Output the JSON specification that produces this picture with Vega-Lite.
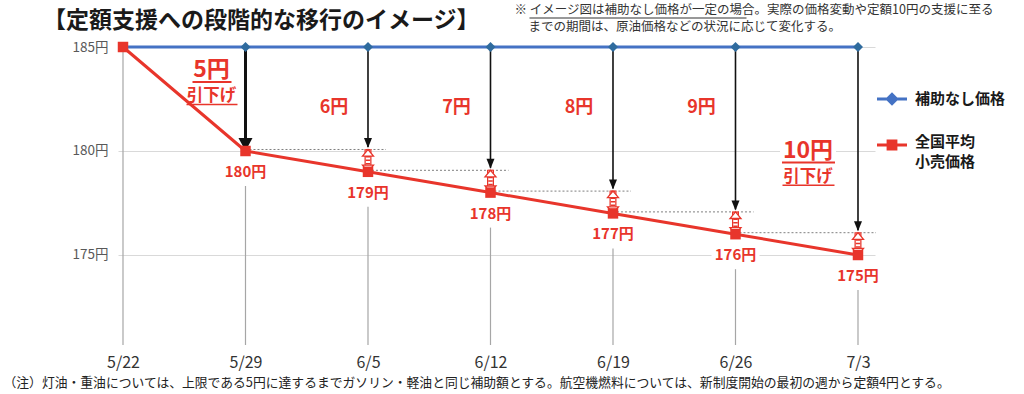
{
  "$schema": "https://vega.github.io/schema/vega-lite/v6.json",
  "width": 757,
  "height": 298,
  "autosize": {"type": "none"},
  "padding": {"left": 118, "top": 47, "right": 149, "bottom": 49},
  "background": "white",
  "config": {"font": "Noto Sans CJK JP", "view": {"stroke": null}},
  "datasets": {
    "prices": [
      {"date": "5/22", "series": "補助なし価格", "price": 185, "label": "185円"},
      {"date": "5/29", "series": "補助なし価格", "price": 185, "label": "185円"},
      {"date": "6/5", "series": "補助なし価格", "price": 185, "label": "185円"},
      {"date": "6/12", "series": "補助なし価格", "price": 185, "label": "185円"},
      {"date": "6/19", "series": "補助なし価格", "price": 185, "label": "185円"},
      {"date": "6/26", "series": "補助なし価格", "price": 185, "label": "185円"},
      {"date": "7/3", "series": "補助なし価格", "price": 185, "label": "185円"},
      {"date": "5/22", "series": "全国平均小売価格", "price": 185, "label": "185円"},
      {"date": "5/29", "series": "全国平均小売価格", "price": 180, "label": "180円"},
      {"date": "6/5", "series": "全国平均小売価格", "price": 179, "label": "179円"},
      {"date": "6/12", "series": "全国平均小売価格", "price": 178, "label": "178円"},
      {"date": "6/19", "series": "全国平均小売価格", "price": 177, "label": "177円"},
      {"date": "6/26", "series": "全国平均小売価格", "price": 176, "label": "176円"},
      {"date": "7/3", "series": "全国平均小売価格", "price": 175, "label": "175円"}
    ],
    "steps": [
      {"date": "6/5", "prevDate": "5/29", "from": 180, "to": 179, "cut": "6円"},
      {"date": "6/12", "prevDate": "6/5", "from": 179, "to": 178, "cut": "7円"},
      {"date": "6/19", "prevDate": "6/12", "from": 178, "to": 177, "cut": "8円"},
      {"date": "6/26", "prevDate": "6/19", "from": 177, "to": 176, "cut": "9円"},
      {"date": "7/3", "prevDate": "6/26", "from": 176, "to": 175, "cut": "10円"}
    ],
    "one": [{"top": 185}]
  },
  "layer": [
    {
      "data": {"name": "prices"},
      "transform": [{"filter": "datum.series == '全国平均小売価格' && datum.date == '5/22'"}],
      "mark": {"type": "rule", "color": "#a6a6a6", "strokeWidth": 1.2},
      "encoding": {
        "x": {"field": "date", "type": "ordinal", "scale": {"type": "point", "domain": ["5/22","5/29","6/5","6/12","6/19","6/26","7/3"], "padding": 0.0898, "align": 0.227},
          "axis": {"title": "（注）灯油・重油については、上限である5円に達するまでガソリン・軽油と同じ補助額とする。航空機燃料については、新制度開始の最初の週から定額4円とする。", "labelFontSize": 16, "labelColor": "#333333", "labelPadding": 9, "ticks": false, "domain": false, "grid": false, "labelAngle": 0, "titleFontSize": 12.8, "titleFontWeight": "normal", "titleColor": "#222222", "titleX": -115, "titleY": 37, "titleAlign": "left", "titleAnchor": "start", "titleBaseline": "middle"}},
        "y": {"field": "price", "type": "quantitative", "scale": {"domain": [170.673, 185], "nice": false, "zero": false},
          "axis": {"title": null, "values": [175, 180, 185], "labelExpr": "datum.value + '円'", "labelFontSize": 13.5, "labelColor": "#595959", "labelPadding": 10, "ticks": false, "domain": false, "grid": true, "gridColor": "#d9d9d9", "gridWidth": 1.2}},
        "y2": {"datum": 170.673}
      }
    },
    {
      "data": {"name": "prices"},
      "transform": [{"filter": "datum.series == '全国平均小売価格' && datum.date != '5/22'"}],
      "mark": {"type": "rule", "color": "#a6a6a6", "strokeWidth": 1.2, "yOffset": 35},
      "encoding": {
        "x": {"field": "date", "type": "ordinal", "scale": {"type": "point", "domain": ["5/22","5/29","6/5","6/12","6/19","6/26","7/3"], "padding": 0.0898, "align": 0.227}},
        "y": {"field": "price", "type": "quantitative", "scale": {"domain": [170.673, 185], "nice": false, "zero": false}},
        "y2": {"datum": 170.673}
      }
    },
    {
      "data": {"name": "prices"},
      "transform": [{"filter": "datum.series == '全国平均小売価格' && datum.date != '5/22'"}],
      "mark": {"type": "point", "shape": "M-1,-0.38H1V0.38H-1Z", "size": 2304, "filled": true, "color": "white", "opacity": 1, "yOffset": 21},
      "encoding": {
        "x": {"field": "date", "type": "ordinal", "scale": {"type": "point", "domain": ["5/22","5/29","6/5","6/12","6/19","6/26","7/3"], "padding": 0.0898, "align": 0.227}},
        "y": {"field": "price", "type": "quantitative", "scale": {"domain": [170.673, 185], "nice": false, "zero": false}}
      }
    },
    {
      "data": {"name": "one"},
      "mark": {"type": "point", "shape": "M-1,-0.38H1V0.38H-1Z", "size": 3136, "filled": true, "color": "white", "opacity": 1, "xOffset": -50},
      "encoding": {
        "x": {"datum": "7/3", "type": "ordinal", "scale": {"type": "point", "domain": ["5/22","5/29","6/5","6/12","6/19","6/26","7/3"], "padding": 0.0898, "align": 0.227}},
        "y": {"datum": 179.95, "type": "quantitative", "scale": {"domain": [170.673, 185], "nice": false, "zero": false}}
      }
    },
    {
      "data": {"name": "steps"},
      "mark": {"type": "rule", "strokeDash": [2, 2], "color": "#7f7f7f", "strokeWidth": 1, "x2Offset": 18, "yOffset": -1.5},
      "encoding": {
        "x": {"field": "prevDate", "type": "ordinal", "scale": {"type": "point", "domain": ["5/22","5/29","6/5","6/12","6/19","6/26","7/3"], "padding": 0.0898, "align": 0.227}},
        "x2": {"field": "date"},
        "y": {"field": "from", "type": "quantitative", "scale": {"domain": [170.673, 185], "nice": false, "zero": false}}
      }
    },
    {
      "data": {"name": "prices"},
      "transform": [{"filter": "datum.series == '補助なし価格'"}],
      "mark": {"type": "line", "strokeWidth": 3},
      "encoding": {
        "x": {"field": "date", "type": "ordinal", "scale": {"type": "point", "domain": ["5/22","5/29","6/5","6/12","6/19","6/26","7/3"], "padding": 0.0898, "align": 0.227}},
        "y": {"field": "price", "type": "quantitative", "scale": {"domain": [170.673, 185], "nice": false, "zero": false}},
        "color": {"field": "series", "type": "nominal", "scale": {"domain": ["補助なし価格", "全国平均小売価格"], "range": ["#4472c4", "#e8352b"]},
          "legend": {"title": null, "orient": "none", "legendX": 759, "legendY": 37, "symbolSize": 900, "labelFontSize": 15, "labelFontWeight": "bold", "labelColor": "#1a1a1a", "labelOffset": 8, "rowPadding": 23, "labelLimit": 200,
            "labelExpr": "datum.label == '全国平均小売価格' ? [' 全国平均', ' 小売価格'] : datum.label",
            "encode": {"symbols": {"update": {"shape": {"signal": "datum.value == '補助なし価格' ? 'M-1,-0.1H1V0.1H-1Z M0,-0.45L0.45,0L0,0.45L-0.45,0Z' : 'M-1,-0.1H1V0.1H-1Z M-0.36,-0.36H0.36V0.36H-0.36Z'"}, "fill": {"scale": "color", "field": "value"}, "strokeWidth": {"value": 0}}}, "labels": {"update": {"lineHeight": {"value": 20}, "dy": {"signal": "datum.value == '全国平均小売価格' ? -3 : 0"}}}}}}
      }
    },
    {
      "data": {"name": "steps"},
      "mark": {"type": "rule", "color": "#111111", "strokeWidth": 1.6},
      "encoding": {
        "x": {"field": "date", "type": "ordinal", "scale": {"type": "point", "domain": ["5/22","5/29","6/5","6/12","6/19","6/26","7/3"], "padding": 0.0898, "align": 0.227}},
        "y": {"field": "from", "type": "quantitative", "scale": {"domain": [170.673, 185], "nice": false, "zero": false}},
        "y2": {"datum": 185},
        "yOffset": {"value": -4}
      }
    },
    {
      "data": {"name": "steps"},
      "mark": {"type": "point", "shape": "M-0.8,-2L0.8,-2L0,0Z", "size": 100, "filled": true, "color": "#111111", "opacity": 1, "yOffset": -3},
      "encoding": {
        "x": {"field": "date", "type": "ordinal", "scale": {"type": "point", "domain": ["5/22","5/29","6/5","6/12","6/19","6/26","7/3"], "padding": 0.0898, "align": 0.227}},
        "y": {"field": "from", "type": "quantitative", "scale": {"domain": [170.673, 185], "nice": false, "zero": false}}
      }
    },
    {
      "data": {"name": "one"},
      "mark": {"type": "rule", "color": "#111111", "strokeWidth": 3},
      "encoding": {
        "x": {"datum": "5/29", "type": "ordinal", "scale": {"type": "point", "domain": ["5/22","5/29","6/5","6/12","6/19","6/26","7/3"], "padding": 0.0898, "align": 0.227}},
        "y": {"field": "top", "type": "quantitative", "scale": {"domain": [170.673, 185], "nice": false, "zero": false}},
        "y2": {"datum": 180.3}
      }
    },
    {
      "data": {"name": "one"},
      "mark": {"type": "point", "shape": "M-0.7,-1.3L0.7,-1.3L0,0Z", "size": 400, "filled": true, "color": "#111111", "opacity": 1},
      "encoding": {
        "x": {"datum": "5/29", "type": "ordinal", "scale": {"type": "point", "domain": ["5/22","5/29","6/5","6/12","6/19","6/26","7/3"], "padding": 0.0898, "align": 0.227}},
        "y": {"datum": 180, "type": "quantitative", "scale": {"domain": [170.673, 185], "nice": false, "zero": false}}
      }
    },
    {
      "data": {"name": "prices"},
      "transform": [{"filter": "datum.series == '補助なし価格'"}],
      "mark": {"type": "point", "shape": "diamond", "size": 100, "filled": true, "color": "#2f6b9e", "opacity": 1},
      "encoding": {
        "x": {"field": "date", "type": "ordinal", "scale": {"type": "point", "domain": ["5/22","5/29","6/5","6/12","6/19","6/26","7/3"], "padding": 0.0898, "align": 0.227}},
        "y": {"field": "price", "type": "quantitative", "scale": {"domain": [170.673, 185], "nice": false, "zero": false}}
      }
    },
    {
      "data": {"name": "prices"},
      "transform": [{"filter": "datum.series == '全国平均小売価格'"}],
      "mark": {"type": "line", "strokeWidth": 3},
      "encoding": {
        "x": {"field": "date", "type": "ordinal", "scale": {"type": "point", "domain": ["5/22","5/29","6/5","6/12","6/19","6/26","7/3"], "padding": 0.0898, "align": 0.227}},
        "y": {"field": "price", "type": "quantitative", "scale": {"domain": [170.673, 185], "nice": false, "zero": false}},
        "color": {"field": "series", "type": "nominal", "scale": {"domain": ["補助なし価格", "全国平均小売価格"], "range": ["#4472c4", "#e8352b"]}}
      }
    },
    {
      "data": {"name": "steps"},
      "mark": {"type": "rule", "color": "#e8352b", "strokeWidth": 7, "yOffset": -2},
      "encoding": {
        "x": {"field": "date", "type": "ordinal", "scale": {"type": "point", "domain": ["5/22","5/29","6/5","6/12","6/19","6/26","7/3"], "padding": 0.0898, "align": 0.227}},
        "y": {"field": "from", "type": "quantitative", "scale": {"domain": [170.673, 185], "nice": false, "zero": false}},
        "y2": {"field": "to"}
      }
    },
    {
      "data": {"name": "steps"},
      "mark": {"type": "rule", "color": "white", "strokeWidth": 4.5, "yOffset": -2},
      "encoding": {
        "x": {"field": "date", "type": "ordinal", "scale": {"type": "point", "domain": ["5/22","5/29","6/5","6/12","6/19","6/26","7/3"], "padding": 0.0898, "align": 0.227}},
        "y": {"field": "from", "type": "quantitative", "scale": {"domain": [170.673, 185], "nice": false, "zero": false}},
        "y2": {"field": "to"}
      }
    },
    {
      "data": {"name": "steps"},
      "mark": {"type": "rule", "color": "#e8352b", "strokeWidth": 4.5, "strokeDash": [1.5, 2], "yOffset": -2},
      "encoding": {
        "x": {"field": "date", "type": "ordinal", "scale": {"type": "point", "domain": ["5/22","5/29","6/5","6/12","6/19","6/26","7/3"], "padding": 0.0898, "align": 0.227}},
        "y": {"field": "from", "type": "quantitative", "scale": {"domain": [170.673, 185], "nice": false, "zero": false}},
        "y2": {"field": "to"}
      }
    },
    {
      "data": {"name": "steps"},
      "mark": {"type": "point", "shape": "M0,0L1,1.2L-1,1.2Z", "size": 121, "filled": true, "fill": "white", "stroke": "#e8352b", "strokeWidth": 1.3, "opacity": 1, "yOffset": -1.5},
      "encoding": {
        "x": {"field": "date", "type": "ordinal", "scale": {"type": "point", "domain": ["5/22","5/29","6/5","6/12","6/19","6/26","7/3"], "padding": 0.0898, "align": 0.227}},
        "y": {"field": "from", "type": "quantitative", "scale": {"domain": [170.673, 185], "nice": false, "zero": false}}
      }
    },
    {
      "data": {"name": "steps"},
      "mark": {"type": "point", "shape": "M0,0L1,-1.2L-1,-1.2Z", "size": 121, "filled": true, "fill": "white", "stroke": "#e8352b", "strokeWidth": 1.3, "opacity": 1, "yOffset": 0},
      "encoding": {
        "x": {"field": "date", "type": "ordinal", "scale": {"type": "point", "domain": ["5/22","5/29","6/5","6/12","6/19","6/26","7/3"], "padding": 0.0898, "align": 0.227}},
        "y": {"field": "to", "type": "quantitative", "scale": {"domain": [170.673, 185], "nice": false, "zero": false}}
      }
    },
    {
      "data": {"name": "prices"},
      "transform": [{"filter": "datum.series == '全国平均小売価格'"}],
      "mark": {"type": "point", "shape": "square", "size": 110, "filled": true, "color": "#e8352b", "opacity": 1},
      "encoding": {
        "x": {"field": "date", "type": "ordinal", "scale": {"type": "point", "domain": ["5/22","5/29","6/5","6/12","6/19","6/26","7/3"], "padding": 0.0898, "align": 0.227}},
        "y": {"field": "price", "type": "quantitative", "scale": {"domain": [170.673, 185], "nice": false, "zero": false}}
      }
    },
    {
      "data": {"name": "prices"},
      "transform": [{"filter": "datum.series == '全国平均小売価格' && datum.date != '5/22'"}],
      "mark": {"type": "text", "fontSize": 15, "fontWeight": "bold", "color": "#e8352b", "yOffset": 21, "baseline": "middle", "align": "center"},
      "encoding": {
        "x": {"field": "date", "type": "ordinal", "scale": {"type": "point", "domain": ["5/22","5/29","6/5","6/12","6/19","6/26","7/3"], "padding": 0.0898, "align": 0.227}},
        "y": {"field": "price", "type": "quantitative", "scale": {"domain": [170.673, 185], "nice": false, "zero": false}},
        "text": {"field": "label"}
      }
    },
    {
      "data": {"name": "steps"},
      "transform": [{"filter": "datum.date != '7/3'"}],
      "mark": {"type": "text", "fontSize": 18, "fontWeight": "bold", "color": "#e8352b", "xOffset": -34, "baseline": "middle", "align": "center"},
      "encoding": {
        "x": {"field": "date", "type": "ordinal", "scale": {"type": "point", "domain": ["5/22","5/29","6/5","6/12","6/19","6/26","7/3"], "padding": 0.0898, "align": 0.227}},
        "y": {"datum": 182.07, "type": "quantitative", "scale": {"domain": [170.673, 185], "nice": false, "zero": false}},
        "text": {"field": "cut"}
      }
    },
    {
      "data": {"name": "one"},
      "mark": {"type": "text", "text": "5円", "fontSize": 23, "fontWeight": "bold", "color": "#e8352b", "xOffset": -34, "baseline": "middle", "align": "center"},
      "encoding": {
        "x": {"datum": "5/29", "type": "ordinal", "scale": {"type": "point", "domain": ["5/22","5/29","6/5","6/12","6/19","6/26","7/3"], "padding": 0.0898, "align": 0.227}},
        "y": {"datum": 183.9, "type": "quantitative", "scale": {"domain": [170.673, 185], "nice": false, "zero": false}}
      }
    },
    {
      "data": {"name": "one"},
      "mark": {"type": "text", "text": "引下げ", "fontSize": 16.5, "fontWeight": "bold", "color": "#e8352b", "xOffset": -34, "baseline": "middle", "align": "center"},
      "encoding": {
        "x": {"datum": "5/29", "type": "ordinal", "scale": {"type": "point", "domain": ["5/22","5/29","6/5","6/12","6/19","6/26","7/3"], "padding": 0.0898, "align": 0.227}},
        "y": {"datum": 182.66, "type": "quantitative", "scale": {"domain": [170.673, 185], "nice": false, "zero": false}}
      }
    },
    {
      "data": {"name": "one"},
      "mark": {"type": "tick", "orient": "horizontal", "size": 39, "thickness": 2, "color": "#e8352b", "opacity": 1, "xOffset": -33.5},
      "encoding": {
        "x": {"datum": "5/29", "type": "ordinal", "scale": {"type": "point", "domain": ["5/22","5/29","6/5","6/12","6/19","6/26","7/3"], "padding": 0.0898, "align": 0.227}},
        "y": {"datum": 183.32, "type": "quantitative", "scale": {"domain": [170.673, 185], "nice": false, "zero": false}}
      }
    },
    {
      "data": {"name": "one"},
      "mark": {"type": "tick", "orient": "horizontal", "size": 51, "thickness": 1.5, "color": "#e8352b", "opacity": 1, "xOffset": -33.5},
      "encoding": {
        "x": {"datum": "5/29", "type": "ordinal", "scale": {"type": "point", "domain": ["5/22","5/29","6/5","6/12","6/19","6/26","7/3"], "padding": 0.0898, "align": 0.227}},
        "y": {"datum": 182.24, "type": "quantitative", "scale": {"domain": [170.673, 185], "nice": false, "zero": false}}
      }
    },
    {
      "data": {"name": "one"},
      "mark": {"type": "text", "text": "10円", "fontSize": 23, "fontWeight": "bold", "color": "#e8352b", "xOffset": -50, "baseline": "middle", "align": "center"},
      "encoding": {
        "x": {"datum": "7/3", "type": "ordinal", "scale": {"type": "point", "domain": ["5/22","5/29","6/5","6/12","6/19","6/26","7/3"], "padding": 0.0898, "align": 0.227}},
        "y": {"datum": 180.0, "type": "quantitative", "scale": {"domain": [170.673, 185], "nice": false, "zero": false}}
      }
    },
    {
      "data": {"name": "one"},
      "mark": {"type": "text", "text": "引下げ", "fontSize": 16.5, "fontWeight": "bold", "color": "#e8352b", "xOffset": -50, "baseline": "middle", "align": "center"},
      "encoding": {
        "x": {"datum": "7/3", "type": "ordinal", "scale": {"type": "point", "domain": ["5/22","5/29","6/5","6/12","6/19","6/26","7/3"], "padding": 0.0898, "align": 0.227}},
        "y": {"datum": 178.74, "type": "quantitative", "scale": {"domain": [170.673, 185], "nice": false, "zero": false}}
      }
    },
    {
      "data": {"name": "one"},
      "mark": {"type": "tick", "orient": "horizontal", "size": 53, "thickness": 2, "color": "#e8352b", "opacity": 1, "xOffset": -49.5},
      "encoding": {
        "x": {"datum": "7/3", "type": "ordinal", "scale": {"type": "point", "domain": ["5/22","5/29","6/5","6/12","6/19","6/26","7/3"], "padding": 0.0898, "align": 0.227}},
        "y": {"datum": 179.45, "type": "quantitative", "scale": {"domain": [170.673, 185], "nice": false, "zero": false}}
      }
    },
    {
      "data": {"name": "one"},
      "mark": {"type": "tick", "orient": "horizontal", "size": 52, "thickness": 1.5, "color": "#e8352b", "opacity": 1, "xOffset": -49.5},
      "encoding": {
        "x": {"datum": "7/3", "type": "ordinal", "scale": {"type": "point", "domain": ["5/22","5/29","6/5","6/12","6/19","6/26","7/3"], "padding": 0.0898, "align": 0.227}},
        "y": {"datum": 178.35, "type": "quantitative", "scale": {"domain": [170.673, 185], "nice": false, "zero": false}}
      }
    },
    {
      "data": {"name": "one"},
      "mark": {"type": "text", "text": "【定額支援への段階的な移行のイメージ】", "fontSize": 23, "fontWeight": "bold", "color": "#1a1a1a", "xOffset": -80, "baseline": "middle", "align": "left"},
      "encoding": {
        "x": {"datum": "5/22", "type": "ordinal", "scale": {"type": "point", "domain": ["5/22","5/29","6/5","6/12","6/19","6/26","7/3"], "padding": 0.0898, "align": 0.227}},
        "y": {"datum": 186.25, "type": "quantitative", "scale": {"domain": [170.673, 185], "nice": false, "zero": false}}
      }
    },
    {
      "data": {"name": "one"},
      "mark": {"type": "text", "text": "※ イメージ図は補助なし価格が一定の場合。実際の価格変動や定額10円の支援に至る", "fontSize": 12.5, "color": "#333333", "xOffset": 24, "baseline": "middle", "align": "left"},
      "encoding": {
        "x": {"datum": "6/12", "type": "ordinal", "scale": {"type": "point", "domain": ["5/22","5/29","6/5","6/12","6/19","6/26","7/3"], "padding": 0.0898, "align": 0.227}},
        "y": {"datum": 186.78, "type": "quantitative", "scale": {"domain": [170.673, 185], "nice": false, "zero": false}}
      }
    },
    {
      "data": {"name": "one"},
      "mark": {"type": "text", "text": "までの期間は、原油価格などの状況に応じて変化する。", "fontSize": 12.5, "color": "#333333", "xOffset": 38, "baseline": "middle", "align": "left"},
      "encoding": {
        "x": {"datum": "6/12", "type": "ordinal", "scale": {"type": "point", "domain": ["5/22","5/29","6/5","6/12","6/19","6/26","7/3"], "padding": 0.0898, "align": 0.227}},
        "y": {"datum": 185.96, "type": "quantitative", "scale": {"domain": [170.673, 185], "nice": false, "zero": false}}
      }
    },
    {
      "data": {"name": "one"},
      "mark": {"type": "tick", "orient": "horizontal", "size": 217, "thickness": 1, "color": "#333333", "opacity": 1, "xOffset": 147.5},
      "encoding": {
        "x": {"datum": "6/12", "type": "ordinal", "scale": {"type": "point", "domain": ["5/22","5/29","6/5","6/12","6/19","6/26","7/3"], "padding": 0.0898, "align": 0.227}},
        "y": {"datum": 186.39, "type": "quantitative", "scale": {"domain": [170.673, 185], "nice": false, "zero": false}}
      }
    }
  ]
}
